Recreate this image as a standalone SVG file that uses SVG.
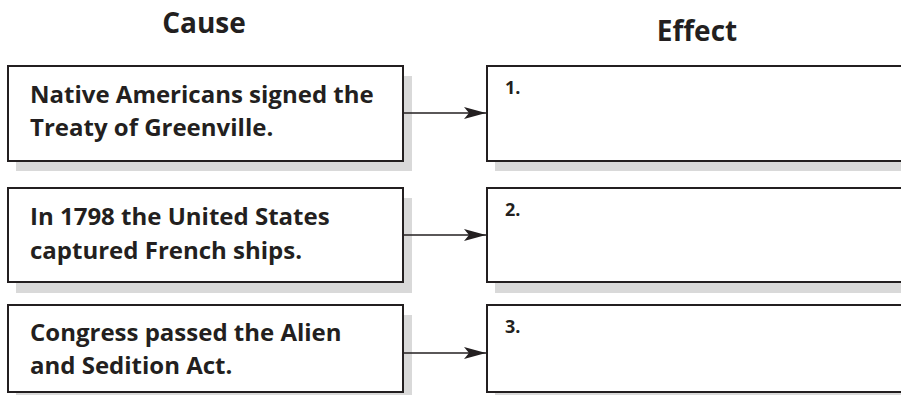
<svg xmlns="http://www.w3.org/2000/svg" width="901" height="395" viewBox="0 0 901 395">
<style>
.box{fill:#fff;stroke:#231f20;stroke-width:2}
.shadow{fill:#d9d9d9}
.title{font-family:"Open Sans","Liberation Sans",sans-serif;font-weight:700;font-size:28px;fill:#231f20;text-anchor:middle}
.txt{font-family:"Open Sans","Liberation Sans",sans-serif;font-weight:700;font-size:24px;fill:#231f20}
.num{font-family:"Open Sans","Liberation Sans",sans-serif;font-weight:700;font-size:18px;fill:#231f20}
.conn{stroke:#231f20;stroke-width:1.5;fill:none}
</style>
<defs>
<marker id="arrow" markerWidth="22" markerHeight="12" refX="22" refY="6" orient="auto" markerUnits="userSpaceOnUse">
<path d="M0,0 L22,6 L0,12 L5,6 Z" fill="#231f20"/>
</marker>
</defs>
<text class="title" x="204" y="33">Cause</text>
<text class="title" x="697" y="41">Effect</text>
<g id="cause1">
<rect class="shadow" x="16" y="76" width="396" height="95"/>
<rect class="box" x="8" y="66" width="395" height="95"/>
<text class="txt" x="30" y="103">Native Americans signed the</text>
<text class="txt" x="30" y="136">Treaty of Greenville.</text>
</g>
<g id="cause2">
<rect class="shadow" x="16" y="198" width="396" height="95"/>
<rect class="box" x="8" y="188" width="395" height="94"/>
<text class="txt" x="30" y="225">In 1798 the United States</text>
<text class="txt" x="30" y="259">captured French ships.</text>
</g>
<g id="cause3">
<rect class="shadow" x="16" y="315" width="396" height="90"/>
<rect class="box" x="8" y="305" width="395" height="87"/>
<text class="txt" x="30" y="341">Congress passed the Alien</text>
<text class="txt" x="30" y="374">and Sedition Act.</text>
</g>
<g id="effect1">
<rect class="shadow" x="495" y="76" width="420" height="95"/>
<rect class="box" x="487" y="66" width="420" height="95"/>
<text class="num" x="505" y="94">1.</text>
</g>
<g id="effect2">
<rect class="shadow" x="495" y="198" width="420" height="95"/>
<rect class="box" x="487" y="188" width="420" height="94"/>
<text class="num" x="505" y="216">2.</text>
</g>
<g id="effect3">
<rect class="shadow" x="495" y="315" width="420" height="90"/>
<rect class="box" x="487" y="305" width="420" height="87"/>
<text class="num" x="505" y="333">3.</text>
</g>
<g id="connectors">
<line class="conn" x1="404" y1="113" x2="486" y2="113" marker-end="url(#arrow)"/>
<line class="conn" x1="404" y1="235" x2="486" y2="235" marker-end="url(#arrow)"/>
<line class="conn" x1="404" y1="353" x2="486" y2="353" marker-end="url(#arrow)"/>
</g>
</svg>
